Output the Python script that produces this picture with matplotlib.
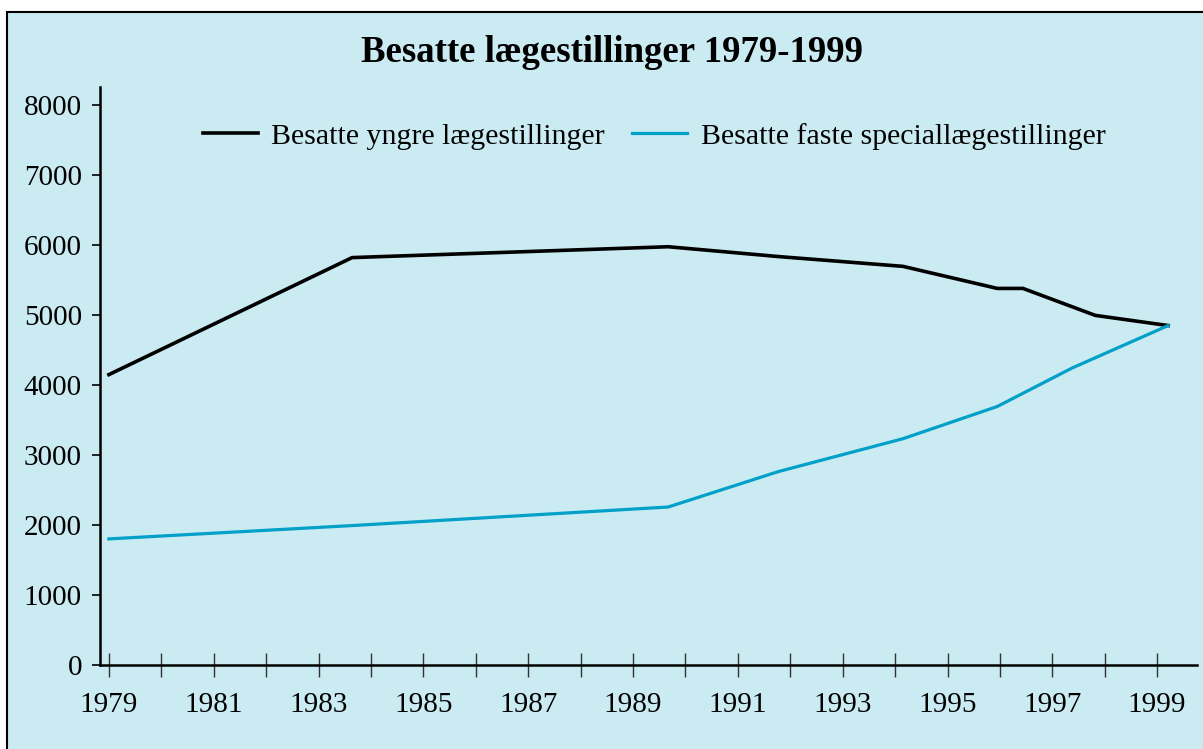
import matplotlib.pyplot as plt
from matplotlib.patches import Rectangle

# Data (years, fractional where the vertices fall between ticks)
years_yngre = [1979.0, 1983.64, 1989.67, 1991.77, 1994.15, 1995.95, 1996.44, 1997.82, 1999.21]
yngre = [4145, 5815, 5970, 5830, 5690, 5375, 5375, 4990, 4845]

years_faste = [1979.0, 1983.64, 1989.67, 1991.77, 1994.15, 1995.95, 1997.38, 1999.21]
faste = [1800, 1990, 2255, 2760, 3230, 3690, 4240, 4845]

title = "Besatte lægestillinger 1979-1999"
label_yngre = "Besatte yngre lægestillinger"
label_faste = "Besatte faste speciallægestillinger"

bg = "#cbebf2"
blue = "#00a0c8"

plt.rcParams['font.family'] = ['Liberation Serif', 'DejaVu Serif']

fig = plt.figure(figsize=(12.03, 7.49), dpi=100, facecolor="white")
fig.patches.append(Rectangle((7 / 1203, -0.05), 1.1, 1 - 12 / 749 + 0.05,
                             transform=fig.transFigure, facecolor=bg,
                             edgecolor="black", linewidth=1.5, zorder=-10))

ax = fig.add_axes([100 / 1203, 84 / 749, 1097 / 1203, 578 / 749])
ax.set_facecolor("none")

ax.plot(years_yngre, yngre, color="black", linewidth=2.6, label=label_yngre)
ax.plot(years_faste, faste, color=blue, linewidth=2.3, label=label_faste)

ax.set_xlim(1978.83, 1999.76)
ax.set_ylim(0, 8250)
ax.set_yticks(range(0, 8001, 1000))
ax.set_xticks(range(1979, 2000, 2))
ax.set_xticks(range(1980, 2000, 2), minor=True)

for s in ["top", "right"]:
    ax.spines[s].set_visible(False)
for s in ["left", "bottom"]:
    ax.spines[s].set_linewidth(1.8)

ax.tick_params(axis="y", direction="out", length=6, width=1.2, labelsize=21, pad=7)
ax.tick_params(axis="x", which="both", direction="inout", length=17, width=1.0,
               color="#333333", labelsize=21, pad=11)

# Titel ist auf die Abbildung zentriert, nicht auf die Achse
fig.text(612 / 1203, 1 - 53 / 749, title, fontsize=26.5, fontweight="bold",
         ha="center", va="center")

ax.legend(loc="upper center", bbox_to_anchor=(0.505, 0.985), ncol=2, frameon=False,
          fontsize=21.5, handlelength=1.85, handletextpad=0.45, columnspacing=0.9)

fig.savefig("out.png", dpi=100, facecolor=fig.get_facecolor())
